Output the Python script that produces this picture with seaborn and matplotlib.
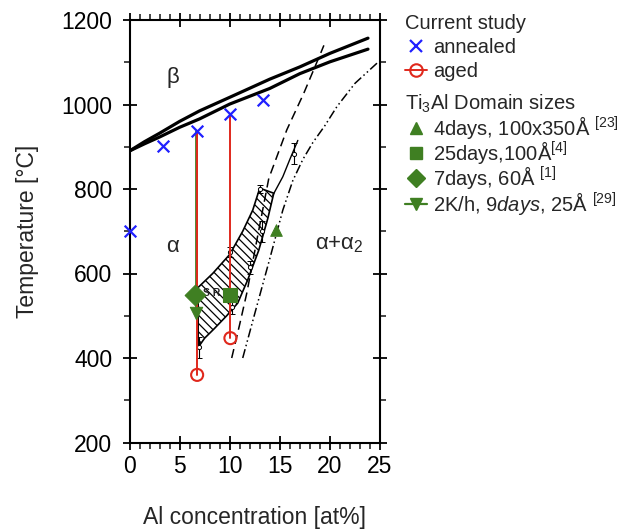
import numpy as np
import pandas as pd
import matplotlib
matplotlib.use("Agg")
import matplotlib.pyplot as plt
from matplotlib.lines import Line2D
from matplotlib.ticker import MultipleLocator
import seaborn as sns

# ---------------- data ----------------
# beta-transus double line
beta_x = [0, 1.5, 3, 5, 7, 10, 14, 17, 20, 23.8]
beta_upper_T = [890, 912, 932, 960, 985, 1017, 1060, 1089, 1121, 1157]
beta_lower_T = [890, 907, 923, 946, 966, 1001, 1038, 1073, 1101, 1131]
# alpha / alpha+alpha2 boundaries
dashed_x = [10.2, 11.0, 11.7, 12.8, 13.9, 15.7, 17.4, 19.0, 19.4]
dashed_T = [400, 480, 553, 690, 825, 940, 1027, 1117, 1140]
solid_x = [14.3, 15.3, 16.0, 16.8]
solid_T = [785, 829, 870, 915]
dashdot_x = [11.3, 12.5, 14.0, 15.3, 16.3, 17.3, 18.3, 19.5, 20.7, 22.5, 24.8]
dashdot_T = [400, 505, 635, 750, 820, 870, 910, 950, 995, 1050, 1100]
# SRO hatched region (outline)
sro_x = [6.85, 8.3, 10.0, 11.3, 12.3, 13.0, 14.4, 13.8, 12.9, 11.8, 10.8, 9.7, 8.4, 7.5, 6.85]
sro_T = [567, 600, 645, 700, 750, 802, 790, 730, 655, 585, 530, 500, 468, 447, 425]
# literature points with error bars
lit_x = [6.9, 10.05, 10.2, 12.0, 13.2, 13.0, 16.4]
lit_T = [425, 650, 520, 615, 700, 800, 884]
lit_err = [25, 12, 15, 15, 25, 10, 25]
# current study
annealed_x = [0, 3.3, 6.75, 10.07, 13.3]
annealed_T = [700, 901, 937, 977, 1011]
aged_x = [6.75, 10.07]
aged_start_T = [937, 977]
aged_T = [360, 447]
# Ti3Al domain sizes
d4_x, d4_T = [14.6], [702]
d25_x, d25_T = [10.07], [550]
d7_x, d7_T = [6.55], [550]
k2_x = [6.6, 6.6]
k2_T = [937, 507]

regions = ["β", "α", "α+α$_2$"]
region_x = [4.3, 4.3, 20.9]
region_T = [1065, 665, 668]

xticks = [0, 5, 10, 15, 20, 25]
yticks = [200, 400, 600, 800, 1000, 1200]

BLUE = "#2020ff"
RED = "#e0281c"
GREEN = "#3f7f22"

# ---------------- style ----------------
sns.set_theme(style="ticks")
plt.rcParams["font.family"] = ["Liberation Sans", "DejaVu Sans"]
plt.rcParams["mathtext.fontset"] = "custom"
plt.rcParams["mathtext.rm"] = "Liberation Sans"
plt.rcParams["mathtext.it"] = "Liberation Sans:italic"
plt.rcParams["mathtext.bf"] = "Liberation Sans:bold"
plt.rcParams["hatch.linewidth"] = 0.9

fig = plt.figure(figsize=(6.27, 5.30), dpi=100)
ax = fig.add_axes([129.5 / 627, 1 - 442.5 / 530, (380 - 129.5) / 627, (442.5 - 20) / 530])

# phase boundaries
sns.lineplot(x=beta_x, y=beta_upper_T, ax=ax, color="black", lw=2.3, sort=False, estimator=None)
sns.lineplot(x=beta_x, y=beta_lower_T, ax=ax, color="black", lw=2.3, sort=False, estimator=None)
sns.lineplot(x=dashed_x, y=dashed_T, ax=ax, color="black", lw=1.1, sort=False, estimator=None,
             dashes=(6, 3.5))
sns.lineplot(x=solid_x, y=solid_T, ax=ax, color="black", lw=1.0, sort=False, estimator=None)
sns.lineplot(x=dashdot_x, y=dashdot_T, ax=ax, color="black", lw=1.1, sort=False, estimator=None,
             dashes=(6, 2, 1, 2, 1, 2))
ax.fill(sro_x, sro_T, facecolor="none", edgecolor="black", hatch="\\\\\\\\", lw=1.2)
ax.text(7.3, 553, "S R O", fontsize=7.5, fontweight="bold", va="center", ha="left")

ax.errorbar(lit_x, lit_T, yerr=lit_err, fmt="o", ms=3, mfc="white", mec="black",
            ecolor="black", elinewidth=0.8, capsize=2, mew=0.7, zorder=3)

# aged: vertical lines with circles at the end
aged_df = pd.DataFrame({
    "x": [v for v in aged_x for _ in range(2)],
    "T": [t for pair in zip(aged_start_T, aged_T) for t in pair],
    "id": [i for i in range(len(aged_x)) for _ in range(2)],
})
# 2K/h slow cooling line
sns.lineplot(x=k2_x, y=k2_T, ax=ax, color=GREEN, lw=2.0, sort=False, estimator=None, zorder=4)
sns.lineplot(data=aged_df, x="x", y="T", units="id", estimator=None, sort=False, ax=ax,
             color=RED, lw=1.4, zorder=4)
sns.scatterplot(x=aged_x, y=aged_T, ax=ax, marker="o", s=75, facecolor="none",
                edgecolor=RED, linewidth=1.5, zorder=5)
sns.scatterplot(x=annealed_x, y=annealed_T, ax=ax, marker="x", s=70, color=BLUE,
                linewidth=1.6, zorder=6, clip_on=False)

sns.scatterplot(x=d4_x, y=d4_T, ax=ax, marker="^", s=70, color=GREEN, edgecolor=GREEN, zorder=6)
sns.scatterplot(x=d25_x, y=d25_T, ax=ax, marker="s", s=95, color=GREEN, edgecolor=GREEN, zorder=6)
sns.scatterplot(x=d7_x, y=d7_T, ax=ax, marker="D", s=110, color=GREEN, edgecolor=GREEN, zorder=6)
sns.scatterplot(x=k2_x[1:], y=k2_T[1:], ax=ax, marker="v", s=80, color=GREEN, edgecolor=GREEN, zorder=6)

for lab, tx, ty in zip(regions, region_x, region_T):
    ax.text(tx, ty, lab, fontsize=16, ha="center", va="center")

# axes
ax.set_xlim(0, 25)
ax.set_ylim(200, 1200)
ax.set_xticks(xticks)
ax.set_yticks(yticks)
ax.xaxis.set_minor_locator(MultipleLocator(1))
ax.yaxis.set_minor_locator(MultipleLocator(100))
ax.tick_params(which="major", direction="inout", length=10.5, width=1.3, top=True, right=True,
               labelsize=16.5, colors="black", pad=4)
ax.tick_params(which="minor", direction="out", length=4.5, width=1.2, top=True, right=True)
ax.tick_params(axis="y", which="major", pad=7)
for sp in ax.spines.values():
    sp.set_linewidth(1.5)
    sp.set_color("black")
ax.set_xlabel("Al concentration [at%]", fontsize=16.5, labelpad=20)
ax.set_ylabel("Temperature [°C]", fontsize=16.5, labelpad=16)

# legends
h1 = [Line2D([], [], ls="none", marker="x", color=BLUE, ms=9, mew=1.6),
      Line2D([], [], ls="-", marker="o", color=RED, mfc="none", ms=9, mew=1.5, lw=1.4)]
l1 = ["annealed", "aged"]
leg1 = ax.legend(h1, l1, title="Current study", alignment="left", loc="upper left",
                 bbox_to_anchor=(405 / 627, 1 - 14 / 530), bbox_transform=fig.transFigure,
                 frameon=False, fontsize=14.5, title_fontsize=14.5, handlelength=1.1,
                 handletextpad=0.3, labelspacing=0.25, borderpad=0, borderaxespad=0)
ax.add_artist(leg1)
h2 = [Line2D([], [], ls="none", marker="^", color=GREEN, ms=8),
      Line2D([], [], ls="none", marker="s", color=GREEN, ms=9),
      Line2D([], [], ls="none", marker="D", color=GREEN, ms=9),
      Line2D([], [], ls="-", marker="v", color=GREEN, ms=9, lw=1.6)]
l2 = ["4days, 100x350Å $^{[23]}$", "25days,100Å$^{[4]}$", "7days, 60Å $^{[1]}$",
      "2K/h, $\\mathit{9days}$, 25Å $^{[29]}$"]
leg2 = ax.legend(h2, l2, title="Ti$_3$Al Domain sizes", alignment="left", loc="upper left",
                 bbox_to_anchor=(405 / 627, 1 - 93 / 530), bbox_transform=fig.transFigure,
                 frameon=False, fontsize=14.5, title_fontsize=14.5, handlelength=1.1,
                 handletextpad=0.3, labelspacing=-0.08, borderpad=0, borderaxespad=0)

fig.savefig("out.png", dpi=100)
